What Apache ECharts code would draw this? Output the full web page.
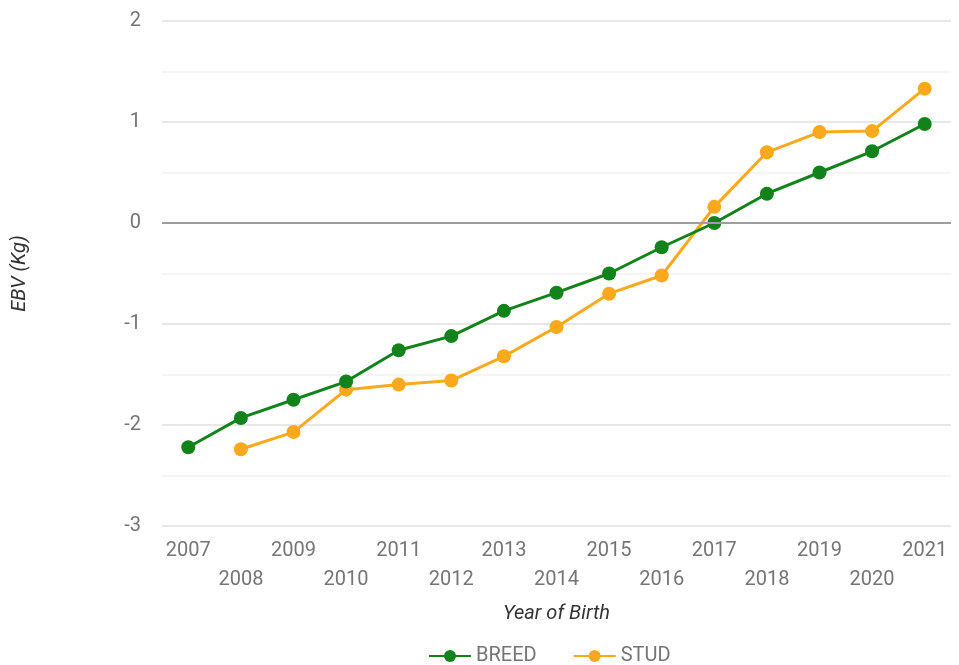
<!DOCTYPE html>
<html>
<head>
<meta charset="utf-8">
<script src="https://cdn.jsdelivr.net/npm/echarts@6/dist/echarts.min.js"></script>
<style>
  html, body { margin: 0; padding: 0; background: #fff; }
  #chart { width: 959px; height: 665px; }
</style>
</head>
<body>
<div id="chart"></div>
<script>
  var years = ['2007', '2008', '2009', '2010', '2011', '2012', '2013', '2014',
    '2015', '2016', '2017', '2018', '2019', '2020', '2021']
  var breed = [-2.22, -1.93, -1.75, -1.57, -1.26, -1.12, -0.87, -0.69,
    -0.50, -0.24, 0.00, 0.29, 0.50, 0.71, 0.98]
  var stud = [null, -2.24, -2.07, -1.65, -1.60, -1.56, -1.32, -1.03,
    -0.70, -0.52, 0.16, 0.70, 0.90, 0.91, 1.33]

  var myChart = echarts.init(document.getElementById('chart'))

  var option = {
    animation: false,
    textStyle: { fontFamily: 'Roboto' },
    grid: { left: 162, right: 8, top: 21, bottom: 139 },
    legend: {
      bottom: -6,
      left: 423,
      itemWidth: 42,
      itemHeight: 15,
      itemGap: 36,
      textStyle: { color: '#757575', fontSize: 20 },
      data: ['BREED', 'STUD']
    },
    xAxis: {
      type: 'category',
      data: years,
      name: 'Year of Birth',
      nameLocation: 'middle',
      nameGap: 78,
      nameTextStyle: { fontStyle: 'italic', fontSize: 20, color: '#333' },
      axisLine: { show: false },
      axisTick: { show: false },
      axisLabel: {
        interval: 0,
        margin: 10,
        fontSize: 20,
        color: '#757575',
        lineHeight: 29,
        formatter: function (v, i) {
          return i % 2 ? '\n' + v : v
        }
      }
    },
    yAxis: {
      type: 'value',
      min: -3,
      max: 2,
      interval: 1,
      name: 'EBV (Kg)',
      nameLocation: 'middle',
      nameGap: 132,
      nameRotate: 90,
      nameTextStyle: { fontStyle: 'italic', fontSize: 20, color: '#333' },
      axisLabel: { margin: 21, fontSize: 20, color: '#757575' },
      splitLine: { lineStyle: { color: '#e0e0e0', width: 1.5 } },
      minorTick: { show: false, splitNumber: 2 },
      minorSplitLine: { show: true, lineStyle: { color: '#f2f2f2', width: 1.5 } }
    },
    series: [
      {
        name: 'BREED',
        type: 'line',
        data: breed,
        symbol: 'circle',
        symbolSize: 14,
        color: '#12821a',
        lineStyle: { width: 3 },
        z: 3,
        markLine: {
          silent: true,
          symbol: 'none',
          label: { show: false },
          lineStyle: { color: '#9e9e9e', type: 'solid', width: 2 },
          data: [{ yAxis: 0 }]
        }
      },
      {
        name: 'STUD',
        type: 'line',
        data: stud,
        symbol: 'circle',
        symbolSize: 14,
        color: '#f9a91b',
        lineStyle: { width: 3 },
        z: 2
      }
    ]
  }
  myChart.setOption(option)
</script>
</body>
</html>
